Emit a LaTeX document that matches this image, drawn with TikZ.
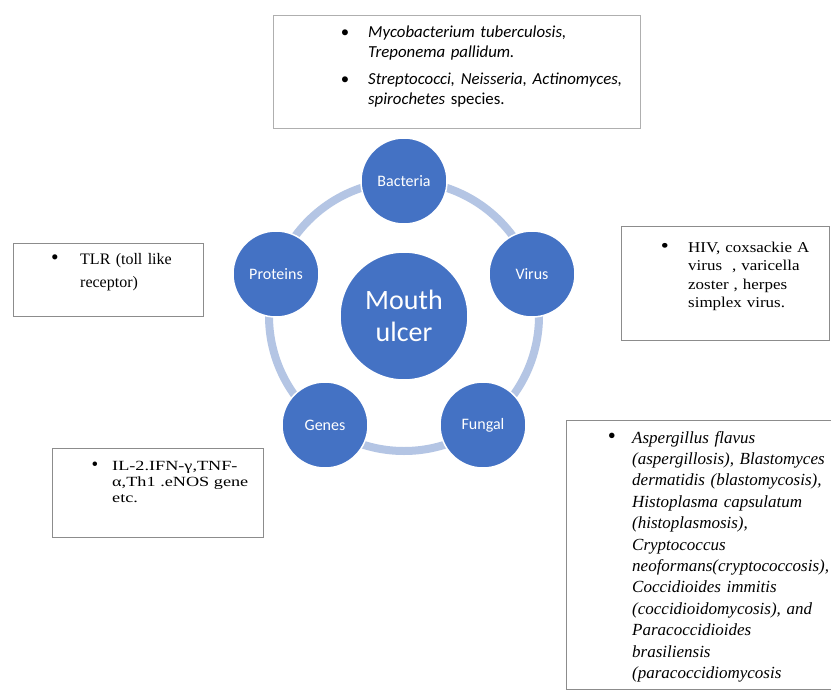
\documentclass[tikz,border=0pt]{standalone}
\usepackage{fontspec}
\setmainfont{Liberation Serif}
\newfontfamily\calibfont{Carlito}
\newfontfamily\serifA[FakeStretch=1.13]{Liberation Serif}
\newfontfamily\serifB[FakeStretch=1.3]{Liberation Serif}
\definecolor{sablue}{RGB}{68,114,196}
\definecolor{ringc}{RGB}{180,197,228}
\definecolor{boxgray}{RGB}{140,140,140}
\tikzset{
  hub/.style={circle, fill=sablue, draw=white, line width=1.5pt, text=white,
    font=\calibfont\fontsize{28}{32}\selectfont, minimum size=128pt, inner sep=0pt, align=center},
  sat/.style={circle, fill=sablue, draw=white, line width=1.5pt, text=white,
    font=\calibfont\fontsize{16}{18}\selectfont, minimum size=86pt, inner sep=0pt},
  ringline/.style={draw=ringc, line width=8pt},
  infobox/.style={draw=boxgray, line width=1pt},
  bul/.style={anchor=base, inner sep=0pt},
  txt/.style={anchor=base west, inner sep=0pt, align=left, text width=320pt}
}
\newcommand{\bigbul}{\scalebox{1.35}{•}}
\begin{document}
\begin{tikzpicture}[x=1pt,y=-1pt]
\useasboundingbox (0,0) rectangle (831,691);
\fill[white] (0,0) rectangle (831,691);

% ring and circles
\coordinate (c) at (404,316);
\draw[ringline] (c) circle (135);
\node[hub] (hub) at (c) {Mouth\\ulcer};
\node[sat] (bact) at (404,181) {Bacteria};
\node[sat] (virus) at (532,274) {Virus};
\node[sat] (fung) at (483,425) {Fungal};
\node[sat] (genes) at (325,425) {Genes};
\node[sat] (prot) at (276,274) {Proteins};

% top box (bacteria)
\draw[infobox, draw=boxgray!70] (273,15) rectangle (640,128);
\begin{scope}[every node/.append style={font=\calibfont\fontsize{16.8}{20}\selectfont}]
\node[bul] (tb1b) at (345,37) {•};
\node[txt] (tb1) at (368,37) {\textit{Mycobacterium tuberculosis,}\\\textit{Treponema pallidum.}};
\node[bul] (tb2b) at (345,84) {•};
\node[txt] (tb2) at (368,84) {\textit{Streptococci, Neisseria, Actinomyces,}\\\textit{spirochetes} species.};
\end{scope}

% TLR box (proteins)
\draw[infobox] (13,243) rectangle (203,316);
\node[bul, font=\fontsize{16}{23}\selectfont] (tlrb) at (55,264) {\bigbul};
\node[txt, font=\fontsize{16}{23}\selectfont] (tlr) at (80,264) {TLR (toll like\\receptor)};

% HIV box (virus)
\draw[infobox] (621,226) rectangle (829,340);
\node[bul, font=\serifA\fontsize{15}{18.5}\selectfont] (hivb) at (665,252) {\bigbul};
\node[txt, font=\serifA\fontsize{15}{18.5}\selectfont] (hiv) at (688,252) {HIV, coxsackie A\\virus~ , varicella\\zoster , herpes\\simplex virus.};

% IL box (genes)
\draw[infobox] (52,448) rectangle (263,537);
\node[bul, font=\fontsize{14}{16}\selectfont] (ilb) at (95,470) {\bigbul};
\node[txt, font=\serifB\fontsize{14}{16}\selectfont] (il) at (112,470) {IL-2.IFN-γ,TNF-\\α,Th1 .eNOS gene\\etc.};

% fungal box
\draw[infobox] (840,420) -- (566,420) -- (566,689) -- (840,689);
\node[bul, font=\fontsize{17}{21.4}\selectfont] (fgb) at (612,443) {\bigbul};
\node[txt, font=\itshape\fontsize{17}{21.4}\selectfont] (fg) at (632,443) {Aspergillus flavus\\(aspergillosis), Blastomyces\\dermatidis (blastomycosis),\\Histoplasma capsulatum\\(histoplasmosis),\\Cryptococcus\\neoformans(cryptococcosis),\\Coccidioides immitis\\(coccidioidomycosis), and\\Paracoccidioides\\brasiliensis\\(paracoccidiomycosis};
\end{tikzpicture}
\end{document}
